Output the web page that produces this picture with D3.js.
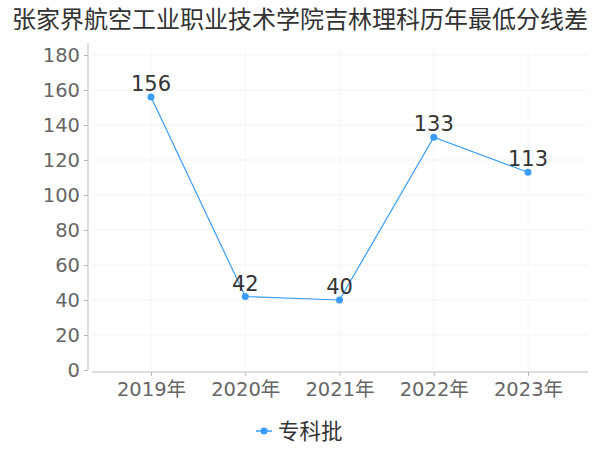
<!DOCTYPE html>
<html><head><meta charset="utf-8">
<script src="https://cdn.jsdelivr.net/npm/d3@7"></script>
<style>body{margin:0;background:#fff}svg{display:block}text{font-family:"DejaVu Sans","Noto Sans CJK SC",sans-serif}</style>
</head><body><svg id="c" width="600" height="450"></svg>
<script>
const title = "张家界航空工业职业技术学院吉林理科历年最低分线差";
const categories = ["2019年","2020年","2021年","2022年","2023年"];
const values = [156, 42, 40, 133, 113];
const yTicks = [0,20,40,60,80,100,120,140,160,180];
const seriesName = "专科批";
const color = "#3a9dfb";

const svg = d3.select("#c");
const x = d3.scalePoint().domain(categories).range([151, 528]);
const y = d3.scaleLinear().domain([0,180]).range([370, 55]);

// grid
const g = svg.append("g");
g.selectAll("line.h").data(yTicks.slice(1)).enter().append("line")
  .attr("x1", 92).attr("x2", 588).attr("y1", d=>y(d)).attr("y2", d=>y(d))
  .attr("stroke", "#f3f3f3").attr("stroke-width", 1);
g.selectAll("line.v").data(categories).enter().append("line")
  .attr("x1", d=>x(d)).attr("x2", d=>x(d)).attr("y1", 45).attr("y2", 370)
  .attr("stroke", "#f6f6f6").attr("stroke-width", 1);

// y axis
const ya = svg.append("g").attr("transform","translate(88,0)")
  .call(d3.axisLeft(y).tickValues(yTicks).tickSize(4).tickPadding(4));
ya.select(".domain").attr("stroke","#bbb").attr("d","M0,43V370");
ya.selectAll(".tick line").attr("stroke","#bbb");
ya.selectAll("text").attr("fill","#666").style("font-size","19.5px");

// x axis
const xa = svg.append("g").attr("transform","translate(0,372)")
  .call(d3.axisBottom(x).tickSize(4).tickPadding(6));
xa.select(".domain").attr("stroke","#bbb").attr("d","M92,0H588");
xa.selectAll(".tick line").attr("stroke","#bbb");
xa.selectAll("text").attr("fill","#666").style("font-size","19.5px");

// line
const data = categories.map((c,i)=>({c, v: values[i]}));
svg.append("path").datum(data)
  .attr("d", d3.line().x(d=>x(d.c)).y(d=>y(d.v)))
  .attr("fill","none").attr("stroke",color).attr("stroke-width",1.2);
svg.selectAll("circle.p").data(data).enter().append("circle")
  .attr("cx", d=>x(d.c)).attr("cy", d=>y(d.v)).attr("r", 3.5).attr("fill", color);
svg.selectAll("text.lbl").data(data).enter().append("text")
  .attr("x", d=>x(d.c)).attr("y", d=>y(d.v)-6).attr("text-anchor","middle")
  .attr("fill","#333").style("font-size","21px").text(d=>d.v);

// title
svg.append("text").attr("x",300).attr("y",28).attr("text-anchor","middle")
  .attr("fill","#333").style("font-size","24px").text(title);

// legend
svg.append("line").attr("x1",256).attr("x2",272).attr("y1",431).attr("y2",431)
  .attr("stroke",color).attr("stroke-width",1.5);
svg.append("circle").attr("cx",264).attr("cy",431).attr("r",3.5).attr("fill",color);
svg.append("text").attr("x",278).attr("y",439).attr("fill","#333")
  .style("font-size","21.5px").text(seriesName);
</script></body></html>
